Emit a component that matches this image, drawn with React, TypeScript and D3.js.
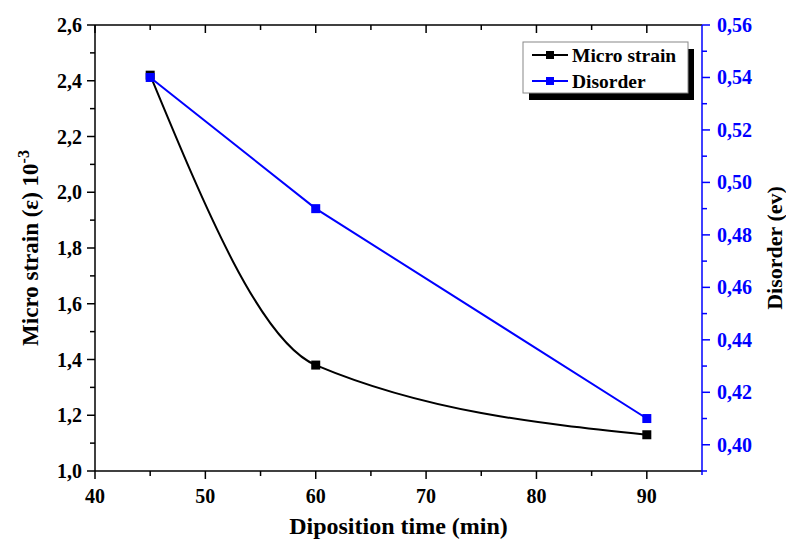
import React from "react";
import * as d3 from "d3";

const times = [45, 60, 90];
const microStrain = [2.42, 1.38, 1.13];
const disorder = [0.54, 0.49, 0.41];
const xTicks = [40, 50, 60, 70, 80, 90];
const leftTicks = [1.0, 1.2, 1.4, 1.6, 1.8, 2.0, 2.2, 2.4, 2.6];
const rightTicks = [0.4, 0.42, 0.44, 0.46, 0.48, 0.5, 0.52, 0.54, 0.56];
const legendLabels = ["Micro strain", "Disorder"];

const W = 786, H = 540;
const L = 95, R = 702, T = 25, B = 471;
const FONT = "'Liberation Serif', 'Times New Roman', serif";
const BLUE = "#0000ff";

export default function App() {
  const x = d3.scaleLinear().domain([40, 95]).range([L, R]);
  const yL = d3.scaleLinear().domain([1.0, 2.6]).range([B, T]);
  const yR = d3.scaleLinear().domain([0.39, 0.56]).range([B, T]);

  const strainPts: [number, number][] = times.map((t, i) => [x(t), yL(microStrain[i])]);
  const disPts: [number, number][] = times.map((t, i) => [x(t), yR(disorder[i])]);
  const curve = d3.line().curve(d3.curveMonotoneX)(strainPts) || "";
  const straight = d3.line()(disPts) || "";

  const fmt = (v: number, d: number) => v.toFixed(d).replace(".", ",");

  const xMinor = d3.range(45, 95, 10);
  const leftMinor = d3.range(1.1, 2.6, 0.2);
  const rightMinor = d3.range(0.39, 0.56, 0.02);

  const ms = 9;
  return (
    <svg width={W} height={H} style={{ position: "absolute", left: 0, top: 0 }} fontFamily={FONT}>
      <rect width={W} height={H} fill="#fff" />
      {/* frame */}
      <line x1={L} y1={T} x2={R} y2={T} stroke="#000" strokeWidth={1.5} />
      <line x1={L} y1={B} x2={R} y2={B} stroke="#000" strokeWidth={1.5} />
      <line x1={L} y1={T} x2={L} y2={B} stroke="#000" strokeWidth={1.5} />
      <line x1={R} y1={T} x2={R} y2={B + 4} stroke={BLUE} strokeWidth={1.5} />

      {/* bottom axis */}
      {xTicks.map((t) => (
        <g key={"xt" + t}>
          <line x1={x(t)} x2={x(t)} y1={B} y2={B + 8} stroke="#000" strokeWidth={1.5} />
          <line x1={x(t)} x2={x(t)} y1={T} y2={T + 8} stroke="#000" strokeWidth={1.5} />
          <text x={x(t)} y={503} textAnchor="middle" fontSize={20} fontWeight="bold">{t}</text>
        </g>
      ))}
      {xMinor.map((t) => (
        <g key={"xm" + t}>
          <line x1={x(t)} x2={x(t)} y1={B} y2={B + 5} stroke="#000" strokeWidth={1.5} />
          <line x1={x(t)} x2={x(t)} y1={T} y2={T + 5} stroke="#000" strokeWidth={1.5} />
        </g>
      ))}
      <text x={(L + R) / 2} y={534} textAnchor="middle" fontSize={24} fontWeight="bold">Diposition time (min)</text>

      {/* left axis */}
      {leftTicks.map((v) => (
        <g key={"yl" + v}>
          <line x1={L - 8} x2={L} y1={yL(v)} y2={yL(v)} stroke="#000" strokeWidth={1.5} />
          <text x={L - 13} y={yL(v) + 7} textAnchor="end" fontSize={20} fontWeight="bold">{fmt(v, 1)}</text>
        </g>
      ))}
      {leftMinor.map((v) => (
        <line key={"ylm" + v} x1={L - 5} x2={L} y1={yL(v)} y2={yL(v)} stroke="#000" strokeWidth={1.5} />
      ))}
      <text transform={`translate(38,${(T + B) / 2}) rotate(-90)`} textAnchor="middle" fontSize={23} fontWeight="bold">
        Micro strain (ε) 10<tspan dy={-9} fontSize={16}>-3</tspan>
      </text>

      {/* right axis */}
      {rightTicks.map((v) => (
        <g key={"yr" + v}>
          <line x1={R} x2={R + 8} y1={yR(v)} y2={yR(v)} stroke={BLUE} strokeWidth={1.5} />
          <text x={R + 15} y={yR(v) + 7} textAnchor="start" fontSize={20} fontWeight="bold" fill={BLUE}>{fmt(v, 2)}</text>
        </g>
      ))}
      {rightMinor.map((v) => (
        <line key={"yrm" + v} x1={R} x2={R + 5} y1={yR(v)} y2={yR(v)} stroke={BLUE} strokeWidth={1.5} />
      ))}
      <text transform={`translate(782,${(T + B) / 2}) rotate(-90)`} textAnchor="middle" fontSize={22} fontWeight="bold">
        Disorder (ev)
      </text>

      {/* series */}
      <path d={curve} fill="none" stroke="#000" strokeWidth={2} />
      {strainPts.map((p, i) => (
        <rect key={"sm" + i} x={p[0] - ms / 2} y={p[1] - ms / 2} width={ms} height={ms} fill="#000" />
      ))}
      <path d={straight} fill="none" stroke={BLUE} strokeWidth={2} />
      {disPts.map((p, i) => (
        <rect key={"dm" + i} x={p[0] - ms / 2} y={p[1] - ms / 2} width={ms} height={ms} fill={BLUE} />
      ))}

      {/* legend */}
      <rect x={529} y={49} width={165} height={51} fill="#000" />
      <rect x={523} y={42} width={165} height={51} fill="#fff" stroke="#888" strokeWidth={1} />
      {legendLabels.map((lab, i) => {
        const cy = 55 + i * 26;
        const col = i === 0 ? "#000" : BLUE;
        return (
          <g key={lab}>
            <line x1={532} x2={568} y1={cy} y2={cy} stroke={col} strokeWidth={2} />
            <rect x={550 - 4} y={cy - 4} width={8} height={8} fill={col} />
            <text x={572} y={cy + 7} fontSize={19.5} fontWeight="bold">{lab}</text>
          </g>
        );
      })}
    </svg>
  );
}
